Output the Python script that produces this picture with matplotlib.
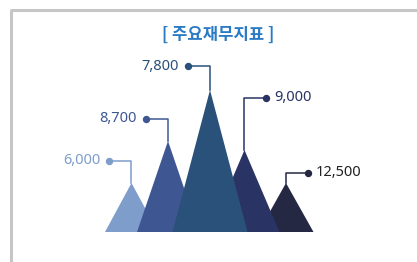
import matplotlib.pyplot as plt
from matplotlib.patches import Polygon

# === Données ===
valeurs = ["6,000", "8,700", "7,800", "9,000", "12,500"]
hauteurs = [49, 91, 142, 82, 49]          # hauteur des pics (px)
centres = [131.5, 168, 210, 244.5, 286]   # position des sommets
demi_largeurs = [26.5, 31, 37.5, 35, 27.5]
couleurs = ["#7f9dcb", "#3e5793", "#2a5179", "#2a3464", "#242843"]
ordre = [1, 2, 3, 2, 1]                   # zorder des triangles

# positions des pastilles (x, y) et côté du texte
pastilles = [(109.5, 160.5), (146, 118.5), (188, 66), (266, 97.5), (308, 172.5)]
cote = ["gauche", "gauche", "gauche", "droite", "droite"]

base = 232

fig = plt.figure(figsize=(4.17, 2.62), dpi=100)
ax = fig.add_axes([0, 0, 1, 1])
ax.set_xlim(0, 417)
ax.set_ylim(262, 0)
ax.axis("off")

# cadre gris
ax.plot([11, 11], [262, 9.5], color="#c6c6c6", lw=2.2, solid_capstyle="butt")
ax.plot([10, 417], [9.5, 9.5], color="#c6c6c6", lw=2.2, solid_capstyle="butt")

ax.text(218.5, 34.5, "[ 주요재무지표 ]", ha="center", va="center", fontsize=12,
        fontweight="bold", color="#2a7ac4", family=["Noto Sans CJK KR", "DejaVu Sans"])

for i in range(len(valeurs)):
    cx, hw, h = centres[i], demi_largeurs[i], hauteurs[i]
    tri = Polygon([(cx - hw, base), (cx, base - h), (cx + hw, base)],
                  closed=True, facecolor=couleurs[i], edgecolor="none", zorder=ordre[i])
    ax.add_patch(tri)

    px, py = pastilles[i]
    ax.plot([px, cx, cx], [py, py, base - h], color=couleurs[i], lw=1.1, zorder=5)
    ax.plot(px, py, "o", color=couleurs[i], markersize=4.3, zorder=6)

    if cote[i] == "gauche":
        ax.text(px - 9, py, valeurs[i], ha="right", va="center", fontsize=10.5,
                color=couleurs[i], family="Noto Sans")
    else:
        ax.text(px + 8, py, valeurs[i], ha="left", va="center", fontsize=10.5,
                color=couleurs[i] if i < 4 else "#222222", family="Noto Sans")

fig.savefig("out.png", dpi=100)
